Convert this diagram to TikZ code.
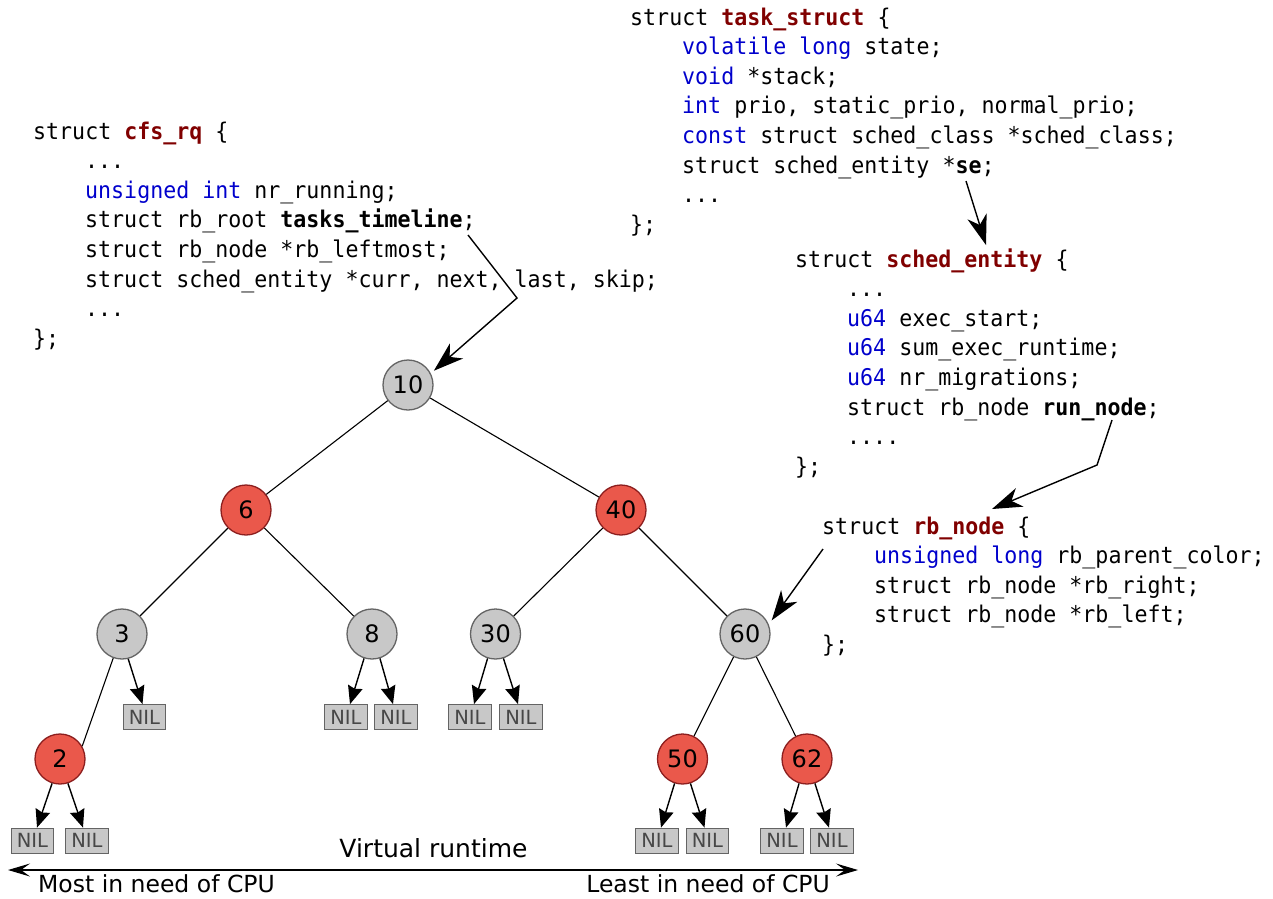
\documentclass[tikz,border=0pt]{standalone}
\usepackage{fontspec}
\setmainfont{DejaVu Sans}
\newfontfamily\codefont[FakeStretch=0.94]{DejaVu Sans Mono}
\usetikzlibrary{arrows.meta}
\definecolor{kwc}{RGB}{0,0,204}
\definecolor{snc}{RGB}{128,0,0}
\definecolor{rednode}{RGB}{234,88,75}
\definecolor{redline}{RGB}{140,30,30}
\definecolor{graynode}{RGB}{200,200,200}
\definecolor{grayline}{RGB}{100,100,100}
\newcommand{\kwd}[1]{\textcolor{kwc}{#1}}
\newcommand{\snm}[1]{\textcolor{snc}{\bfseries #1}}
\newcommand{\bdw}[1]{\textbf{#1}}
\frenchspacing
\begin{document}
\begin{tikzpicture}[x=1pt,y=-1pt,
  codeline/.style={font=\codefont\fontsize{23}{29.6}\selectfont\frenchspacing, anchor=base west, inner sep=0pt},
  rbred/.style={circle, minimum size=50pt, inner sep=0pt, fill=rednode, draw=redline, line width=1.3pt, font=\fontsize{24}{28}\selectfont},
  rbblack/.style={circle, minimum size=50pt, inner sep=0pt, fill=graynode, draw=grayline, line width=1.3pt, font=\fontsize{24}{28}\selectfont},
  nilbox/.style={rectangle, minimum width=42.6pt, minimum height=25pt, inner sep=0pt, fill=graynode, draw=grayline, line width=1.2pt, text=black!72, font=\fontsize{19.5}{22}\selectfont},
  treeedge/.style={line width=1.1pt},
  nilarrow/.style={line width=1.4pt, -{Stealth[length=18pt,width=15pt,inset=2pt]}},
  ptrarrow/.style={line width=1.4pt, -{Stealth[length=30pt,width=20pt,inset=9pt]}},
  axisline/.style={line width=1.3pt, {Stealth[length=22pt,width=13pt,inset=9pt]}-{Stealth[length=22pt,width=13pt,inset=9pt]}},
  label/.style={inner sep=0pt}
]
\useasboundingbox (0,0) rectangle (1273,898);

% struct cfs_rq
\node[codeline] (cfs1) at (33,139) {struct \snm{cfs\_rq} \{};
\node[codeline] (cfs2) at (85,168.6) {...};
\node[codeline] (cfs3) at (85,198.2) {\kwd{unsigned int} nr\_running;};
\node[codeline] (cfs4) at (85,227.8) {struct rb\_root \bdw{tasks\_timeline};};
\node[codeline] (cfs5) at (85,257.4) {struct rb\_node *rb\_leftmost;};
\node[codeline] (cfs6) at (85,287) {struct sched\_entity *curr, next, last, skip;};
\node[codeline] (cfs7) at (85,316.6) {...};
\node[codeline] (cfs8) at (33,346.2) {\};};

% struct task_struct
\node[codeline] (ts1) at (630,25) {struct \snm{task\_struct} \{};
\node[codeline] (ts2) at (682,54.6) {\kwd{volatile long} state;};
\node[codeline] (ts3) at (682,84.2) {\kwd{void} *stack;};
\node[codeline] (ts4) at (682,113.8) {\kwd{int} prio, static\_prio, normal\_prio;};
\node[codeline] (ts5) at (682,143.4) {\kwd{const} struct sched\_class *sched\_class;};
\node[codeline] (ts6) at (682,173) {struct sched\_entity *\bdw{se};};
\node[codeline] (ts7) at (682,202.6) {...};
\node[codeline] (ts8) at (630,232.2) {\};};

% struct sched_entity
\node[codeline] (se1) at (795,267) {struct \snm{sched\_entity} \{};
\node[codeline] (se2) at (847,296.6) {...};
\node[codeline] (se3) at (847,326.2) {\kwd{u64} exec\_start;};
\node[codeline] (se4) at (847,355.8) {\kwd{u64} sum\_exec\_runtime;};
\node[codeline] (se5) at (847,385.4) {\kwd{u64} nr\_migrations;};
\node[codeline] (se6) at (847,415) {struct rb\_node \bdw{run\_node};};
\node[codeline] (se7) at (847,444.6) {....};
\node[codeline] (se8) at (795,474.2) {\};};

% struct rb_node
\node[codeline] (rn1) at (822,534) {struct \snm{rb\_node} \{};
\node[codeline] (rn2) at (874,563.6) {\kwd{unsigned long} rb\_parent\_color;};
\node[codeline] (rn3) at (874,593.2) {struct rb\_node *rb\_right;};
\node[codeline] (rn4) at (874,622.8) {struct rb\_node *rb\_left;};
\node[codeline] (rn5) at (822,652.4) {\};};

% tree nodes
\node[rbblack] (n10) at (408,385) {10};
\node[rbred]   (n6)  at (246,510) {6};
\node[rbred]   (n40) at (621,510) {40};
\node[rbblack] (n3)  at (122,634) {3};
\node[rbblack] (n8)  at (372,634) {8};
\node[rbblack] (n30) at (495.5,634) {30};
\node[rbblack] (n60) at (745,634) {60};
\node[rbred]   (n2)  at (60,759) {2};
\node[rbred]   (n50) at (682.5,759) {50};
\node[rbred]   (n62) at (807,759) {62};

% NIL leaves
\node[nilbox] (nA) at (144.5,717.2) {NIL};
\node[nilbox] (nB) at (346,717.2) {NIL};
\node[nilbox] (nC) at (396,717.2) {NIL};
\node[nilbox] (nD) at (470,717.2) {NIL};
\node[nilbox] (nE) at (521,717.2) {NIL};
\node[nilbox] (nF) at (32.5,840.7) {NIL};
\node[nilbox] (nG) at (87,840.7) {NIL};
\node[nilbox] (nH) at (657,840.7) {NIL};
\node[nilbox] (nI) at (707.5,840.7) {NIL};
\node[nilbox] (nJ) at (782,840.7) {NIL};
\node[nilbox] (nK) at (832,840.7) {NIL};

% tree edges
\draw[treeedge] (n10) -- (n6);
\draw[treeedge] (n10) -- (n40);
\draw[treeedge] (n6) -- (n3);
\draw[treeedge] (n6) -- (n8);
\draw[treeedge] (n40) -- (n30);
\draw[treeedge] (n40) -- (n60);
\draw[treeedge] (n3.250) -- (n2.30);
\draw[treeedge] (n60) -- (n50);
\draw[treeedge] (n60) -- (n62);

% NIL arrows
\draw[nilarrow] (n3.284) -- ([xshift=-2pt]nA.north);
\draw[nilarrow] (n8.252) -- ([xshift=4pt]nB.north);
\draw[nilarrow] (n8.288) -- ([xshift=-3pt]nC.north);
\draw[nilarrow] (n30.252) -- ([xshift=4pt]nD.north);
\draw[nilarrow] (n30.288) -- ([xshift=-3pt]nE.north);
\draw[nilarrow] (n2.252) -- ([xshift=4.5pt]nF.north);
\draw[nilarrow] (n2.288) -- ([xshift=-4pt]nG.north);
\draw[nilarrow] (n50.252) -- ([xshift=4pt]nH.north);
\draw[nilarrow] (n50.288) -- ([xshift=-3pt]nI.north);
\draw[nilarrow] (n62.252) -- ([xshift=4pt]nJ.north);
\draw[nilarrow] (n62.288) -- ([xshift=-3pt]nK.north);

% pointer arrows
\coordinate (p1s) at (468,235);
\coordinate (p1b) at (517,298);
\draw[ptrarrow, shorten >=4pt] (p1s) -- (p1b) -- (n10.27);
\coordinate (p2s) at (966,181);
\coordinate (p2e) at (986,245);
\draw[ptrarrow] (p2s) -- (p2e);
\coordinate (p3s) at (1112,420);
\coordinate (p3b) at (1097,465);
\coordinate (p3e) at (992,509);
\draw[ptrarrow] (p3s) -- (p3b) -- (p3e);
\coordinate (p4s) at (823,549);
\draw[ptrarrow, shorten >=5pt] (p4s) -- (n60.22);

% axis
\coordinate (axL) at (8,870);
\coordinate (axR) at (858,870);
\draw[axisline] (axL) -- (axR);
\node[label, anchor=base, font=\fontsize{25}{30}\selectfont] (vr) at (433.5,857) {Virtual runtime};
\node[label, anchor=base west, font=\fontsize{23.5}{28}\selectfont] (most) at (38,892) {Most in need of CPU};
\node[label, anchor=base east, font=\fontsize{23.5}{28}\selectfont] (least) at (830,892) {Least in need of CPU};
\end{tikzpicture}
\end{document}
